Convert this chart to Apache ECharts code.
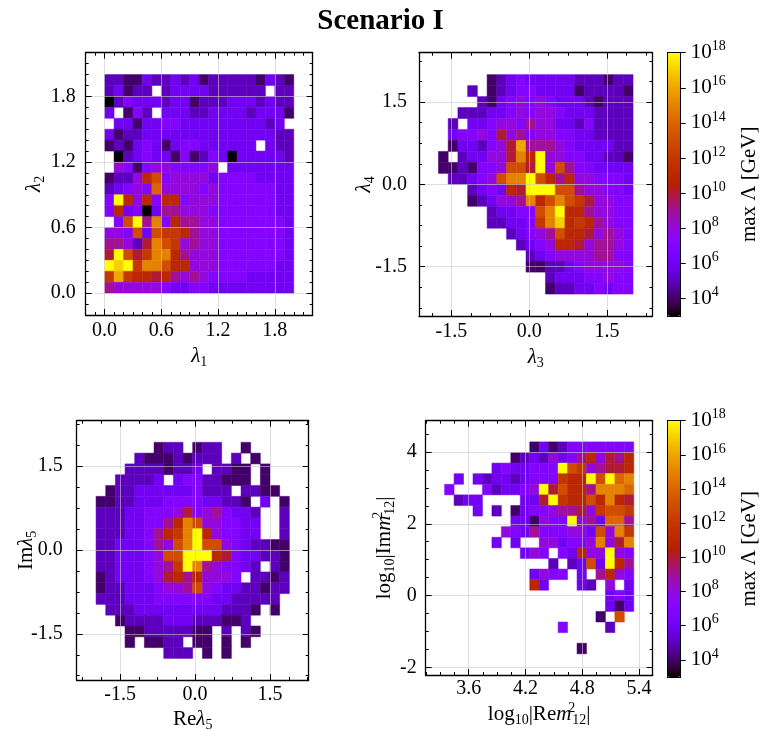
<!DOCTYPE html>
<html><head><meta charset="utf-8">
<script src="https://cdn.jsdelivr.net/npm/echarts@6/dist/echarts.min.js"></script>
<style>html,body{margin:0;padding:0;background:#fff}#c{width:761px;height:731px}</style>
</head><body><div id="c"></div>
<script>
// ---------------- DATA ----------------
// Bin value code = log10(max Λ / GeV): '3'..'9' -> 3..9, 'A'..'I' -> 10..18, '.' = empty bin.
// Rows are listed from the top of each panel to the bottom, columns left to right.
const P1_ROWS = [
  "55446556564555554654",
  "56455.56666555555.55",
  "35766656645556665655",
  "6.475.66655666656664",
  ".664667766666666656.",
  "64556666666666666655",
  "4546764677666666.655",
  ".3567664745763666665",
  ".87478877778.6666666",
  "4558BD78888677776666",
  "56787E88887877777766",
  "7IB8B7BB788877777766",
  "7B673699888777777766",
  ".7DI9F7B998877777776",
  "887D6DCCB98877777776",
  "9985AFDC898877777776",
  "AIDACFFB988877777776",
  "IHICFFDBB88877777766",
  "CGCBBAB9898777766666",
  "98888876677666666666"
];
const P1_BINS = {x0: 0, dx: 0.1, y0: 0, dy: 0.1};

const P2_ROWS = [
  ".....456766666555455",
  "...5.456776666455554",
  "....5467878766654555",
  "..555667878876665555",
  ".5.66788798866575555",
  ".67787A8978877665555",
  ".466578AG99987666655",
  "4.56688AFBI887766554",
  "4454778DDAI8D9776666",
  ".55678DFFIDB9B887776",
  "...5676BAIIIDD988776",
  "...456889FBDFDCA8877",
  ".....56677DFIBB98877",
  ".....55667CFHBCB9877",
  ".......56789DBBA8987",
  "........5678BBA89987",
  ".........56788889977",
  ".........44556788887",
  "...........566677877",
  "...........455667677"
];
const P2_BINS = {x0: -1.75, dx: 0.1875, y0: -2.0, dy: 0.2};

const P3_ROWS = [
  "......455.455..4....",
  "....544454555.5.4...",
  "...55554556.5544.4..",
  "..55556.67755444.4..",
  ".4556666667555.5544.",
  "4455666777766554.6.4",
  "555667778A7897665..5",
  "55566779BFD887766..5",
  "5556679BCFIB87766..5",
  "55666798DFIDD8765544",
  "5566678DDIIIBA766554",
  "55666789CIF987765.54",
  "4566678AB9B8887.5545",
  "4556667889D876655455",
  "5556667777776655555.",
  ".5556666666665554.4.",
  "..45555666555445....",
  "...445555544.5.54...",
  "...4.4455.44.4.4....",
  ".......555.4.4......"
];
const P3_BINS = {x0: -1.98, dx: 0.1933, y0: -1.94, dy: 0.193};

const P4_ROWS = [
  ".........46457777777",
  ".......45658679B8A9B",
  ".....6766777IDC89AAB",
  ".6.656656777CBBIDIEF",
  "7...756678IADBB9FFFE",
  ".566....66AICBBDBFBA",
  "...6.5.4677899A8CDDC",
  ".......664877I896EE9",
  "......8769777886D8FC",
  ".....6.6..886778F8AF",
  "........687.76B88I87",
  "...........5.56D6IB9",
  ".........6877.6.9B87",
  ".........B6...65.8.6",
  ".................676",
  ".................646",
  "................4.D.",
  "............7....5..",
  "....................",
  "..............4....."
];
const P4_BINS = {x0: 3.345, dx: 0.1, y0: -1.62, dy: 0.295};

// Axis ranges and ticks
const P1_X_RANGE = [-0.2, 2.2], P1_Y_RANGE = [-0.2, 2.2];
const P1_X_TICKS = [0, 0.6, 1.2, 1.8], P1_Y_TICKS = [0, 0.6, 1.2, 1.8];
const P2_X_RANGE = [-2.125, 2.375], P2_Y_RANGE = [-2.4, 2.4];
const P2_X_TICKS = [-1.5, 0, 1.5], P2_Y_TICKS = [-1.5, 0, 1.5];
const P3_X_RANGE = [-2.367, 2.273], P3_Y_RANGE = [-2.326, 2.306];
const P3_X_TICKS = [-1.5, 0, 1.5], P3_Y_TICKS = [-1.5, 0, 1.5];
const P4_X_RANGE = [3.145, 5.545], P4_Y_RANGE = [-2.21, 4.87];
const P4_X_TICKS = [3.6, 4.2, 4.8, 5.4], P4_Y_TICKS = [-2, 0, 2, 4];
const CB_RANGE = [3, 18];
const CB_TICKS = [4, 6, 8, 10, 12, 14, 16, 18];

// ---------------- STYLE / BUILD ----------------
const FONT = "'Liberation Serif', 'DejaVu Serif', serif";
function decode(ch) {
  if (ch === '.') return null;
  const c = ch.charCodeAt(0);
  return c <= 57 ? c - 48 : c - 55;
}
function buildCells(rows, b) {
  const n = rows.length, out = [];
  rows.forEach((row, r) => {
    for (let c = 0; c < row.length; c++) {
      const v = decode(row[c]);
      if (v === null) continue;
      const yi = n - 1 - r;
      out.push([b.x0 + c * b.dx, b.x0 + (c + 1) * b.dx, b.y0 + yi * b.dy, b.y0 + (yi + 1) * b.dy, v]);
    }
  });
  return out;
}
// matplotlib "gnuplot" colormap
function gnuplot(t) {
  const r = Math.sqrt(t), g = t * t * t, b = Math.max(0, Math.sin(2 * Math.PI * t));
  return 'rgb(' + Math.round(r * 255) + ',' + Math.round(g * 255) + ',' + Math.round(b * 255) + ')';
}
const CMAP = [];
for (let i = 0; i <= 48; i++) CMAP.push(gnuplot(i / 48));

function minorVals(range, step) {
  const out = [];
  const k0 = Math.ceil(range[0] / step - 1e-9), k1 = Math.floor(range[1] / step + 1e-9);
  for (let k = k0; k <= k1; k++) {
    const v = +(k * step).toFixed(6);
    if (v > range[0] + 1e-6 && v < range[1] - 1e-6) out.push(v);
  }
  return out;
}

const RICH = {
  r: {fontFamily: FONT, fontSize: 21, color: '#000', lineHeight: 26, verticalAlign: 'middle'},
  i: {fontFamily: FONT, fontSize: 21, fontStyle: 'italic', color: '#000', lineHeight: 26, verticalAlign: 'middle'},
  s: {fontFamily: FONT, fontSize: 14, color: '#000', lineHeight: 18, verticalAlign: 'bottom'},
  p: {fontFamily: FONT, fontSize: 14, color: '#000', lineHeight: 18, verticalAlign: 'top'},
  pz: {fontFamily: FONT, fontSize: 14, color: '#000', lineHeight: 18, verticalAlign: 'top', width: 1}
};

const GRIDS = [
  {left: 85.7, top: 52.7, width: 227, height: 262.3},
  {left: 419, top: 52.7, width: 233.5, height: 263.3},
  {left: 76.7, top: 420.7, width: 232, height: 259.3},
  {left: 425.7, top: 420.7, width: 227, height: 254.3},
  {left: 667.3, top: 52.7, width: 13.4, height: 263.3},
  {left: 667.3, top: 420.7, width: 13.4, height: 256.3}
];

const xAxes = [], yAxes = [], series = [];
const LINE = {show: true, onZero: false, lineStyle: {color: '#000', width: 1.3}};
const NOLINE = {show: false, onZero: false};
const SPLIT = {show: true, lineStyle: {color: 'rgba(200,200,200,0.6)', width: 1}};
const TICKFONT = 20;

function addPanel(g, cfg) {
  const xi = xAxes.length, yi = yAxes.length;
  const common = {gridIndex: g, type: 'value', z: 5, axisPointer: {show: false}, nameMoveOverlap: false};
  const tickStyle = {color: '#000', width: 1};
  xAxes.push(Object.assign({}, common, {
    position: 'bottom', min: cfg.xr[0], max: cfg.xr[1], axisLine: LINE,
    axisTick: {show: true, inside: true, length: 6, customValues: cfg.xt, lineStyle: tickStyle},
    axisLabel: {show: true, customValues: cfg.xt, formatter: cfg.xf, fontFamily: FONT, fontSize: TICKFONT, color: '#000', margin: cfg.xm},
    splitLine: SPLIT,
    name: cfg.xn, nameLocation: 'middle', nameGap: cfg.xg, nameTextStyle: {rich: RICH}
  }));
  xAxes.push(Object.assign({}, common, {
    position: 'top', min: cfg.xr[0], max: cfg.xr[1], axisLine: LINE,
    axisTick: {show: true, inside: true, length: 6, customValues: cfg.xt, lineStyle: tickStyle},
    axisLabel: {show: false}, splitLine: {show: false}
  }));
  ['bottom', 'top'].forEach(pos => xAxes.push(Object.assign({}, common, {
    position: pos, min: cfg.xr[0], max: cfg.xr[1], axisLine: NOLINE,
    axisTick: {show: true, inside: true, length: 3, customValues: minorVals(cfg.xr, cfg.xs), lineStyle: tickStyle},
    axisLabel: {show: false}, splitLine: {show: false}
  })));
  yAxes.push(Object.assign({}, common, {
    position: 'left', min: cfg.yr[0], max: cfg.yr[1], axisLine: LINE,
    axisTick: {show: true, inside: true, length: 6, customValues: cfg.yt, lineStyle: tickStyle},
    axisLabel: {show: true, customValues: cfg.yt, formatter: cfg.yf, fontFamily: FONT, fontSize: TICKFONT, color: '#000', margin: cfg.ym},
    splitLine: SPLIT,
    name: cfg.yn, nameLocation: 'middle', nameRotate: 90, nameGap: cfg.yg, nameTextStyle: {rich: RICH}
  }));
  yAxes.push(Object.assign({}, common, {
    position: 'right', min: cfg.yr[0], max: cfg.yr[1], axisLine: LINE,
    axisTick: {show: true, inside: true, length: 6, customValues: cfg.yt, lineStyle: tickStyle},
    axisLabel: {show: false}, splitLine: {show: false}
  }));
  ['left', 'right'].forEach(pos => yAxes.push(Object.assign({}, common, {
    position: pos, min: cfg.yr[0], max: cfg.yr[1], axisLine: NOLINE,
    axisTick: {show: true, inside: true, length: 3, customValues: minorVals(cfg.yr, cfg.ys), lineStyle: tickStyle},
    axisLabel: {show: false}, splitLine: {show: false}
  })));
  series.push({
    type: 'custom', xAxisIndex: xi, yAxisIndex: yi, data: cfg.cells, silent: true, z: 2,
    encode: {x: [0, 1], y: [2, 3]},
    renderItem: function (params, api) {
      const a = api.coord([api.value(0), api.value(3)]);
      const b = api.coord([api.value(1), api.value(2)]);
      const col = api.visual('color');
      return {type: 'rect', shape: {x: a[0], y: a[1], width: b[0] - a[0], height: b[1] - a[1]},
        style: {fill: col, stroke: col, lineWidth: 0.5}};
    }
  });
}

const f1 = v => (+v).toFixed(1), f0 = v => (+v).toFixed(0);
addPanel(0, {cells: buildCells(P1_ROWS, P1_BINS), xr: P1_X_RANGE, yr: P1_Y_RANGE, xt: P1_X_TICKS, yt: P1_Y_TICKS,
  xs: 0.1, ys: 0.1, xf: f1, yf: f1, xm: 6, ym: 10, xn: '{i|λ}{s|1}', yn: '{i|λ}{s|2}', xg: 28, yg: 38});
addPanel(1, {cells: buildCells(P2_ROWS, P2_BINS), xr: P2_X_RANGE, yr: P2_Y_RANGE, xt: P2_X_TICKS, yt: P2_Y_TICKS,
  xs: 0.375, ys: 0.375, xf: f1, yf: f1, xm: 6, ym: 12, xn: '{i|λ}{s|3}', yn: '{i|λ}{s|4}', xg: 28, yg: 42});
addPanel(2, {cells: buildCells(P3_ROWS, P3_BINS), xr: P3_X_RANGE, yr: P3_Y_RANGE, xt: P3_X_TICKS, yt: P3_Y_TICKS,
  xs: 0.375, ys: 0.375, xf: f1, yf: f1, xm: 5, ym: 14, xn: '{r|Re}{i|λ}{s|5}', yn: '{r|Im}{i|λ}{s|5}', xg: 26, yg: 37});
addPanel(3, {cells: buildCells(P4_ROWS, P4_BINS), xr: P4_X_RANGE, yr: P4_Y_RANGE, xt: P4_X_TICKS, yt: P4_Y_TICKS,
  xs: 0.15, ys: 0.5, xf: f1, yf: f0, xm: 4, ym: 9,
  xn: '{r|log}{s|10}{r||Re}{i|m}{pz|2}{s|12}{r||}', yn: '{r|log}{s|10}{r||Im}{i|m}{pz|2}{s|12}{r||}', xg: 26, yg: 28});

// colour bars (frames + tick labels)
[4, 5].forEach(g => {
  const frame = {gridIndex: g, type: 'value', min: 0, max: 1, z: 10,
    axisLine: {show: true, onZero: false, lineStyle: {color: '#000', width: 1}},
    axisTick: {show: false}, axisLabel: {show: false}, splitLine: {show: false}, axisPointer: {show: false}};
  xAxes.push(Object.assign({}, frame, {position: 'bottom'}));
  xAxes.push(Object.assign({}, frame, {position: 'top'}));
  yAxes.push(Object.assign({}, frame, {position: 'left'}));
  yAxes.push({gridIndex: g, type: 'value', position: 'right', min: CB_RANGE[0], max: CB_RANGE[1], z: 10,
    axisPointer: {show: false}, nameMoveOverlap: false,
    axisLine: {show: true, onZero: false, lineStyle: {color: '#000', width: 1}},
    axisTick: {show: true, inside: false, length: 5, customValues: CB_TICKS, lineStyle: {color: '#000', width: 1}},
    axisLabel: {show: true, customValues: CB_TICKS, margin: 10, formatter: v => '{b|10}{p|' + v + '}',
      rich: {b: {fontFamily: FONT, fontSize: 21, color: '#000', lineHeight: 26, verticalAlign: 'middle'},
             p: {fontFamily: FONT, fontSize: 14, color: '#000', lineHeight: 20, verticalAlign: 'top'}}},
    splitLine: {show: false},
    name: 'max Λ [GeV]', nameLocation: 'middle', nameRotate: 90, nameGap: 58,
    nameTextStyle: {fontFamily: FONT, fontSize: 21, color: '#000'}
  });
});

const option = {
  backgroundColor: '#fff',
  animation: false,
  title: {text: 'Scenario I', left: 'center', top: 2,
    textStyle: {fontFamily: FONT, fontWeight: 'bold', fontSize: 29, color: '#000'}},
  grid: GRIDS.map(g => Object.assign({containLabel: false, outerBoundsMode: 'none'}, g)),
  xAxis: xAxes,
  yAxis: yAxes,
  visualMap: [
    {type: 'continuous', min: CB_RANGE[0], max: CB_RANGE[1], dimension: 4, seriesIndex: [0, 1, 2],
      inRange: {color: CMAP}, orient: 'vertical', left: GRIDS[4].left, top: GRIDS[4].top,
      itemWidth: GRIDS[4].width, itemHeight: GRIDS[4].height, padding: 0, calculable: false, hoverLink: false},
    {type: 'continuous', min: CB_RANGE[0], max: CB_RANGE[1], dimension: 4, seriesIndex: [3],
      inRange: {color: CMAP}, orient: 'vertical', left: GRIDS[5].left, top: GRIDS[5].top,
      itemWidth: GRIDS[5].width, itemHeight: GRIDS[5].height, padding: 0, calculable: false, hoverLink: false}
  ],
  series: series
};
const chart = echarts.init(document.getElementById('c'), null, {renderer: 'canvas'});
chart.setOption(option);
</script></body></html>
